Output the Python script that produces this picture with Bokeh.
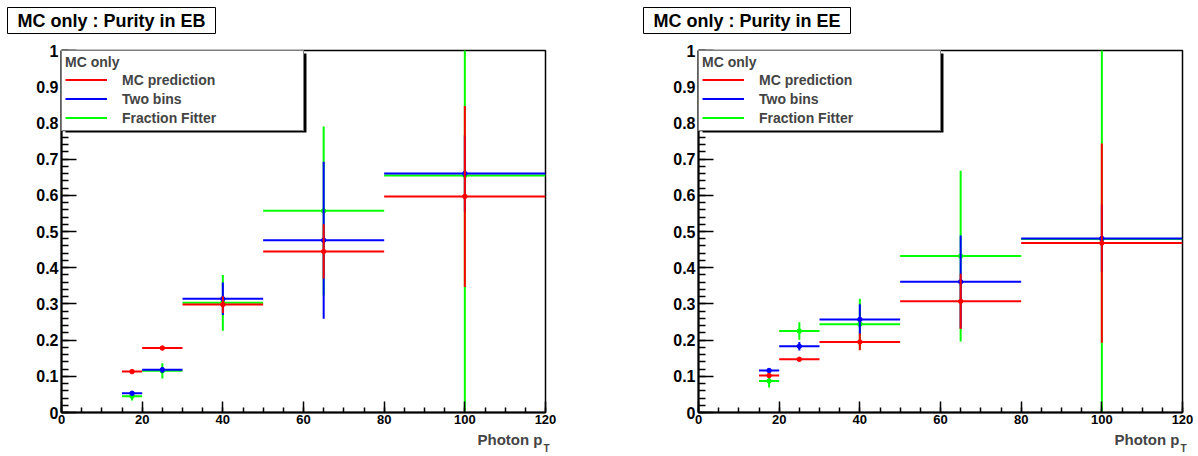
from bokeh.plotting import figure
from bokeh.models import (Range1d, FixedTicker, PrintfTickFormatter, Label, Legend,
                          LegendItem, BoxAnnotation, ColumnDataSource)
from bokeh.layouts import row, column
from bokeh.embed import file_html
from bokeh.resources import INLINE

# ---- data ----
bin_lo = [15, 20, 30, 50, 80]
bin_hi = [20, 30, 50, 80, 120]
bin_center = [17.5, 25, 40, 65, 100]

eb_mc = [0.113, 0.178, 0.298, 0.445, 0.597]
eb_mc_err = [0.004, 0.005, 0.023, 0.075, 0.25]
eb_two = [0.053, 0.118, 0.314, 0.476, 0.660]
eb_two_err = [0.005, 0.008, 0.045, 0.217, 0.105]
eb_ff = [0.045, 0.115, 0.303, 0.557, 0.655]
eb_ff_err = [0.012, 0.021, 0.077, 0.233, 0.65]

ee_mc = [0.102, 0.147, 0.195, 0.307, 0.468]
ee_mc_err = [0.005, 0.005, 0.023, 0.076, 0.275]
ee_two = [0.116, 0.183, 0.257, 0.361, 0.481]
ee_two_err = [0.005, 0.012, 0.042, 0.128, 0.093]
ee_ff = [0.087, 0.225, 0.244, 0.432, 0.479]
ee_ff_err = [0.018, 0.024, 0.07, 0.236, 0.55]

x_ticks = [0, 20, 40, 60, 80, 100, 120]
x_tick_labels = ["0", "20", "40", "60", "80", "100", "120"]
y_ticks = [0, 0.1, 0.2, 0.3, 0.4, 0.5, 0.6, 0.7, 0.8, 0.9, 1]
y_tick_labels = ["0", "0.1", "0.2", "0.3", "0.4", "0.5", "0.6", "0.7", "0.8", "0.9", "1"]

series_names = ["MC prediction", "Two bins", "Fraction Fitter"]
series_colors = ["#ff0000", "#0000ff", "#00ff00"]
legend_header = "MC only"
panel_titles = ["MC only : Purity in EB", "MC only : Purity in EE"]
x_title = "Photon p"
x_title_sub = "T"

FONT = "Liberation Sans"
TOTAL_W = 1198
PANEL_W = 599
TOP_H = 40
MAIN_H = 389
BOT_H = 27
FRAME_W = 484
FRAME_LEFTS = [61, 698]   # page pixels of the frames' left edges
TITLE_BOX_X = [7, 643]    # page pixels of the panel title boxes' left edges


def strip(height):
    s = figure(width=TOTAL_W, height=height, x_range=Range1d(0, TOTAL_W),
               y_range=Range1d(0, height), x_axis_type=None, y_axis_type=None,
               output_backend="svg", toolbar_location=None, title=None,
               min_border=0, min_border_left=0, min_border_right=0,
               min_border_top=0, min_border_bottom=0)
    s.grid.visible = False
    s.outline_line_color = None
    s.background_fill_color = "white"
    s.border_fill_color = "white"
    return s


top = strip(TOP_H)
for text, tx in zip(panel_titles, TITLE_BOX_X):
    common = dict(text=text, text_font=FONT, text_font_style="bold",
                  text_font_size="18px", text_baseline="alphabetic",
                  padding=dict(left=10, right=10, top=3, bottom=3))
    ty = TOP_H - 20
    top.add_layout(Label(x=tx + 2, y=ty - 2, **common, text_alpha=0,
                         background_fill_color="black", background_fill_alpha=1))
    top.add_layout(Label(x=tx, y=ty, **common, text_color="black",
                         background_fill_color="white", background_fill_alpha=1,
                         border_line_color="black", border_line_width=1))

bottom = strip(BOT_H)
for fl in FRAME_LEFTS:
    fr = fl + FRAME_W
    bottom.add_layout(Label(x=fr - 3, y=BOT_H - 9.5, text=x_title,
                            text_align="right", text_baseline="alphabetic",
                            text_font=FONT, text_font_style="bold",
                            text_font_size="15px"))
    bottom.add_layout(Label(x=fr - 2, y=BOT_H - 19, text=x_title_sub,
                            text_align="left", text_baseline="alphabetic",
                            text_font=FONT, text_font_style="bold",
                            text_font_size="10px"))


def make_panel(mc, mc_err, two, two_err, ff, ff_err, border_left):
    p = figure(width=PANEL_W, height=MAIN_H, x_range=Range1d(0, 120),
               y_range=Range1d(0, 1), output_backend="svg", toolbar_location=None,
               title=None, min_border_left=border_left,
               min_border_right=PANEL_W - border_left - FRAME_W,
               min_border_top=10, min_border_bottom=17)
    p.grid.visible = False
    p.outline_line_color = "black"
    p.outline_line_width = 1.5
    p.background_fill_color = "white"
    p.border_fill_color = "white"

    p.xaxis.ticker = FixedTicker(ticks=x_ticks, minor_ticks=list(range(0, 121, 5)))
    p.xaxis.major_label_overrides = dict(zip(x_ticks, x_tick_labels))
    p.yaxis.ticker = FixedTicker(ticks=y_ticks,
                                 minor_ticks=[round(i * 0.02, 2) for i in range(51)])
    p.yaxis.formatter = PrintfTickFormatter(format="%g")
    p.yaxis.major_label_overrides = dict(zip(y_ticks, y_tick_labels))
    for ax in (p.xaxis, p.yaxis):
        ax.axis_line_color = "black"
        ax.axis_line_width = 2
        ax.major_tick_line_color = "black"
        ax.minor_tick_line_color = "black"
        ax.major_tick_line_width = 1.5
        ax.minor_tick_line_width = 1.5
        ax.major_tick_out = 0
        ax.minor_tick_out = 0
        ax.major_label_text_font = FONT
        ax.major_label_text_font_style = "bold"
        ax.major_label_text_color = "black"
    p.xaxis.major_tick_in = 11
    p.xaxis.minor_tick_in = 5
    p.yaxis.major_tick_in = 15
    p.yaxis.minor_tick_in = 7
    p.xaxis.major_label_text_font_size = "13px"
    p.yaxis.major_label_text_font_size = "16px"
    p.xaxis.major_label_standoff = 2
    p.yaxis.major_label_standoff = 3

    vals = {"MC prediction": (mc, mc_err), "Two bins": (two, two_err),
            "Fraction Fitter": (ff, ff_err)}
    h_renderers = {}
    for name, col in reversed(list(zip(series_names, series_colors))):
        y, e = vals[name]
        src = ColumnDataSource(dict(lo=bin_lo, hi=bin_hi, x=bin_center, y=y,
                                    ylo=[a - b for a, b in zip(y, e)],
                                    yhi=[a + b for a, b in zip(y, e)]))
        h = p.segment(x0="lo", y0="y", x1="hi", y1="y", source=src,
                      line_color=col, line_width=2)
        p.segment(x0="x", y0="ylo", x1="x", y1="yhi", source=src,
                  line_color=col, line_width=2)
        p.scatter(x="x", y="y", source=src, marker="circle", size=4.5,
                  fill_color=col, line_color=col)
        h_renderers[name] = h

    # legend shadow
    p.add_layout(BoxAnnotation(left=0.99, right=60.74, top=0.9917, bottom=0.7735,
                               fill_color="black", fill_alpha=1, line_color=None))
    legend = Legend(
        items=[LegendItem(label=n, renderers=[h_renderers[n]]) for n in series_names],
        location="top_left", margin=0, padding=3, spacing=0,
        glyph_width=42, glyph_height=19, label_height=19, label_width=178,
        label_standoff=15, title=legend_header, title_standoff=0,
        title_text_font=FONT, title_text_font_style="bold", title_text_font_size="14px",
        label_text_font=FONT, label_text_font_style="bold", label_text_font_size="14px",
        border_line_color="black", border_line_width=1,
        background_fill_color="white", background_fill_alpha=1)
    p.add_layout(legend)
    return p


p1 = make_panel(eb_mc, eb_mc_err, eb_two, eb_two_err, eb_ff, eb_ff_err,
                FRAME_LEFTS[0])
p2 = make_panel(ee_mc, ee_mc_err, ee_two, ee_two_err, ee_ff, ee_ff_err,
                FRAME_LEFTS[1] - PANEL_W)

layout = column(top, row(p1, p2), bottom)
open("out.html", "w").write(file_html(layout, INLINE))
